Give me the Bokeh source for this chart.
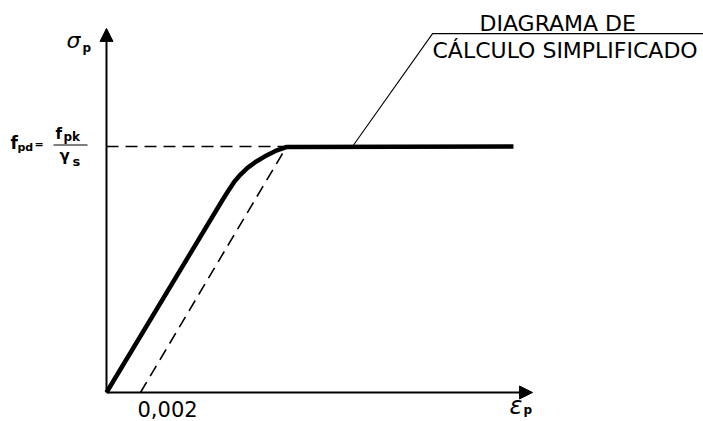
from bokeh.plotting import figure
from bokeh.models import Range1d, Arrow, NormalHead
from bokeh.core.properties import value
from bokeh.embed import file_html
from bokeh.resources import INLINE

# ---- data (strain, stress normalised to f_pd) ----
eps_offset = 0.002          # 0.002 offset of the simplified diagram
eps_yield = 0.0106          # end of the simplified linear branch
eps_end = 0.02394           # end of the plateau
sig_pd = 1.0

curve_eps = [0.0, 0.006824, 0.007176, 0.007529, 0.007882, 0.008294,
             0.008765, 0.009294, 0.009941, 0.010618, 0.02394]
curve_sig = [0.0, 0.7825, 0.821, 0.858, 0.886, 0.913,
             0.937, 0.959, 0.982, 0.998, 1.0]

simp_eps = [eps_offset, eps_yield]
simp_sig = [0.0, sig_pd]

fpd_eps = [0.0, eps_yield]
fpd_sig = [sig_pd, sig_pd]

leader_eps = [0.01447, 0.01918, 0.0352]
leader_sig = [1.0, 1.459, 1.459]

axis_eps_max = 0.02506
axis_sig_max = 1.48

tick_label = "0,002"
title_1 = "DIAGRAMA DE"
title_2 = "CÁLCULO SIMPLIFICADO"

# ---- layout: screen mapping ----
W, H = 703, 421
OX, OY = 106, 392          # origin in picture (px)
SX, SY = 17000.0, 246.0    # px per unit strain / per unit stress

x0 = -OX / SX
y1 = OY / SY


def d(px, py):
    return (px - OX) / SX, (OY - py) / SY


p = figure(width=W, height=H, output_backend="svg", toolbar_location=None,
           x_range=Range1d(x0, x0 + W / SX), y_range=Range1d(y1 - H / SY, y1),
           min_border=0)
p.axis.visible = False
p.grid.visible = False
p.outline_line_color = None
p.background_fill_color = "white"
p.border_fill_color = "white"

# axes with arrows
head = dict(size=13, fill_color="black", line_color="black", line_width=1)
p.add_layout(Arrow(end=NormalHead(**head), x_start=0, y_start=0,
                   x_end=0, y_end=axis_sig_max, line_width=2, line_color="black"))
p.add_layout(Arrow(end=NormalHead(**head), x_start=0, y_start=0,
                   x_end=axis_eps_max, y_end=0, line_width=2, line_color="black"))

# dashed simplified lines
p.line(fpd_eps, fpd_sig, line_color="black", line_width=1.6, line_dash="12 7")
p.line(simp_eps, simp_sig, line_color="black", line_width=1.6, line_dash="12 7")

# main curve
p.line(curve_eps, curve_sig, line_color="black", line_width=4.5,
       line_join="round")

# leader line
p.line(leader_eps, leader_sig, line_color="black", line_width=1.1)

FONT = "DejaVu Sans"
BASE_FIX = 0.3   # renderer places the baseline ~0.3 em lower than asked


def lab(text, px, py, size, style="normal"):
    x, y = d(px, py - BASE_FIX * size)
    p.text(x=[x], y=[y], text=[text], text_font=value(FONT),
           text_font_size=value(f"{size}px"), text_font_style=style,
           text_align="left", text_baseline="alphabetic", text_color="black")


lab(title_1, 479, 30, 22)
lab(title_2, 432, 57, 22)
lab(tick_label, 137, 415, 21)

# sigma_p
lab("σ", 66, 47, 22, "italic")
lab("p", 82, 51, 12, "bold")

# f_pd = f_pk / gamma_s
lab("f", 10, 148, 17, "bold")
lab("pd", 17, 150, 11, "bold")
lab("=", 34, 147, 11, "bold")
lab("f", 55, 138, 15, "bold")
lab("pk", 63, 140, 12, "bold")
lab("γ", 59, 160, 15, "bold")
lab("s", 72, 165, 13, "bold")
bx0, by = d(53, 144.5)
bx1, _ = d(87, 144.5)
p.line([bx0, bx1], [by, by], line_color="black", line_width=1.2)

# epsilon_p
lab("ε", 509, 413, 24, "italic")
lab("p", 523, 413, 12, "bold")

open("out.html", "w").write(file_html(p, INLINE))
